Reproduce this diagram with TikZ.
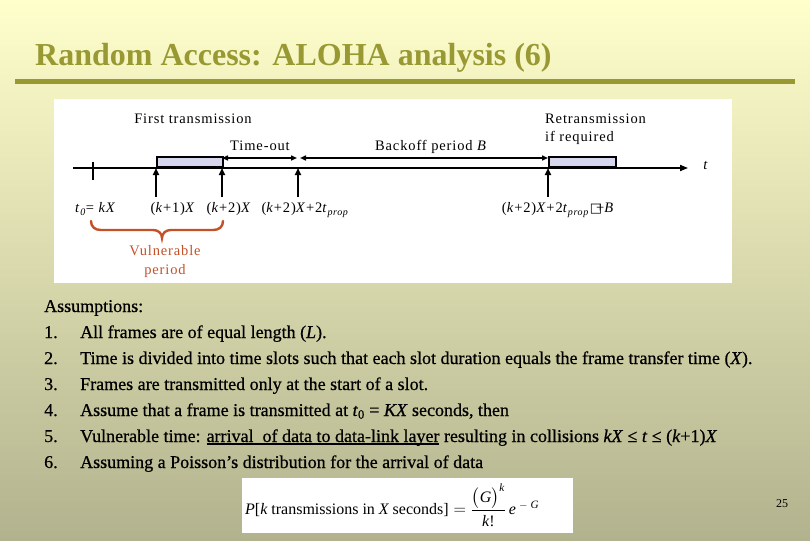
\documentclass[tikz,border=0pt]{standalone}
\usepackage{fontspec}
\usepackage{amsmath}
\setmainfont{Liberation Serif}
\newfontfamily\diagfont[LetterSpace=6]{Liberation Serif}
\newfontfamily\bodyfont[FakeBold=0.6]{Liberation Serif}
\newfontfamily\symfont{DejaVu Sans}
\usetikzlibrary{arrows.meta}
\definecolor{olive}{RGB}{153,153,51}
\definecolor{bgtop}{RGB}{255,255,204}
\definecolor{bgbot}{RGB}{178,178,142}
\definecolor{framefill}{RGB}{214,214,238}
\definecolor{bracered}{RGB}{196,80,40}
\newcommand\dsub[1]{\raisebox{-3pt}{\fontsize{10}{10}\selectfont\textit{#1}}}
\newcommand\myul[1]{\setbox0\hbox{#1}\rlap{\rule[-2.6pt]{\wd0}{1.7pt}}\box0\relax}
\tikzset{
  dlabel/.style={anchor=base, inner sep=0pt, font=\diagfont\fontsize{14.5}{17}\selectfont},
  axisline/.style={line width=1.7pt, -{Triangle[length=8pt,width=6pt]}},
  ticktick/.style={line width=1.7pt},
  uparrow/.style={line width=1.7pt, -{Triangle[length=7pt,width=6pt]}},
  spanarrow/.style={line width=1.7pt, {Triangle[length=6pt,width=5pt]}-{Triangle[length=6pt,width=5pt]}},
  framebox/.style={draw=black, line width=1.7pt, fill=framefill, inner sep=0pt, anchor=south west},
  bodytext/.style={anchor=base west, inner sep=0pt, font=\bodyfont\fontsize{18}{22}\selectfont},
  bracestyle/.style={draw=bracered, line width=2.4pt, line cap=round}
}
\begin{document}
\begin{tikzpicture}[x=1pt,y=-1pt]
\useasboundingbox (0,0) rectangle (810,540);
\shade[top color=bgtop, bottom color=bgbot] (0,0) rectangle (810,540);
% title
\node[anchor=base west, inner sep=0pt, text=olive, font=\fontsize{32}{38}\selectfont\bfseries] (title) at (35,66) {Random Access: ALOHA analysis (6)};
\fill[olive] (15,79) rectangle (795,84);
% diagram panel
\fill[white] (54,99) rectangle (732,283);
% timeline
\coordinate (tl0) at (73,168);
\coordinate (tl1) at (688,168);
\draw[axisline] (tl0) -- (tl1);
\coordinate (tk0) at (93,162);
\coordinate (tk1) at (93,180);
\draw[ticktick] (tk0) -- (tk1);
% frames
\node[framebox, minimum width=66pt, minimum height=10pt] (f1) at (156,168) {};
\node[framebox, minimum width=67pt, minimum height=10pt] (f2) at (548,168) {};
% vertical arrows
\coordinate (a1b) at (156,197); \coordinate (a1t) at (156,168);
\coordinate (a2b) at (222,197); \coordinate (a2t) at (222,168);
\coordinate (a3b) at (298,197); \coordinate (a3t) at (298,168);
\coordinate (a4b) at (548,197); \coordinate (a4t) at (548,168);
\draw[uparrow] (a1b) -- (a1t);
\draw[uparrow] (a2b) -- (a2t);
\draw[uparrow] (a3b) -- (a3t);
\draw[uparrow] (a4b) -- (a4t);
% span arrows
\coordinate (s1) at (222,158);
\coordinate (s2) at (297,158);
\coordinate (s3) at (300,158);
\coordinate (s4) at (548,158);
\draw[spanarrow] (s1) -- (s2);
\draw[spanarrow] (s3) -- (s4);
% labels
\node[dlabel] (lfirst) at (193,124) {First transmission};
\node[dlabel] (ltimeout) at (260,150) {Time-out};
\node[dlabel] (lbackoff) at (431,150) {Backoff period \textit{B}};
\node[dlabel, anchor=base west] (lretx1) at (545,124) {Retransmission};
\node[dlabel, anchor=base west] (lretx2) at (545,142) {if required};
\node[dlabel] (lt) at (706,170) {\textit{t}};
\node[dlabel, anchor=base west] (lt0) at (75,212) {\textit{t}\dsub{0}= \textit{kX}};
\node[dlabel] (lk1) at (173,212) {(\textit{k}+1)\textit{X}};
\node[dlabel] (lk2) at (229,212) {(\textit{k}+2)\textit{X}};
\node[dlabel] (lk2p) at (305,212) {(\textit{k}+2)\textit{X}+2\textit{t}\dsub{prop}};
\node[dlabel] (lre) at (558,212) {(\textit{k}+2)\textit{X}+2\textit{t}\dsub{prop}\hspace{1pt}{\symfont\fontsize{13}{13}\selectfont □}\hspace{-6pt}+\textit{B}};
% brace
\coordinate (bl) at (91,221);
\coordinate (btip) at (162,238);
\coordinate (br) at (223,221);
\draw[bracestyle] (bl) .. controls (91,227) and (95,230) .. (101,230) -- (153,230)
  .. controls (158,230) and (162,233) .. (btip)
  .. controls (162,233) and (166,230) .. (171,230) -- (213,230)
  .. controls (219,230) and (223,227) .. (br);
\node[dlabel, text=bracered] (lvul1) at (165,255) {Vulnerable};
\node[dlabel, text=bracered] (lvul2) at (165,274) {period};
% assumptions
\node[bodytext] (ass) at (44,312) {Assumptions:};
\node[bodytext] (n1) at (44,338) {1.};
\node[bodytext] (n2) at (44,364) {2.};
\node[bodytext] (n3) at (44,390) {3.};
\node[bodytext] (n4) at (44,416) {4.};
\node[bodytext] (n5) at (44,442) {5.};
\node[bodytext] (n6) at (44,468) {6.};
\node[bodytext] (i1) at (80,338) {All frames are of equal length (\textit{L}).};
\node[bodytext] (i2) at (80,364) {Time is divided into time slots such that each slot duration equals the frame transfer time (\textit{X}).};
\node[bodytext] (i3) at (80,390) {Frames are transmitted only at the start of a slot.};
\node[bodytext] (i4) at (80,416) {Assume that a frame is transmitted at \textit{t}\textsubscript{0} = \textit{KX} seconds, then};
\node[bodytext] (i5) at (80,442) {Vulnerable time: \myul{arrival\ \ of data to data-link layer} resulting in collisions \textit{kX} ≤ \textit{t} ≤ (\textit{k}+1)\textit{X}};
\node[bodytext] (i6) at (80,468) {Assuming a Poisson’s distribution for the arrival of data};
% formula
\node[fill=white, minimum width=331pt, minimum height=55pt, inner sep=0pt] (fbox) at (407.5,505.5) {};
\node[anchor=west, inner sep=0pt, font=\fontsize{16}{20}\selectfont] (formula) at (245,505.5)
  {$\textit{P}\text{[}\textit{k}\text{ transmissions in }\textit{X}\text{ seconds]}=\dfrac{\bigl(\textit{G}\bigr)^{\textit{k}}}{\textit{k}\text{!}}\,\textit{e}^{\;-\;\textit{G}}$};
% page number
\node[inner sep=0pt, font=\fontsize{12}{14}\selectfont] (pnum) at (782,504) {25};
\end{tikzpicture}
\end{document}
